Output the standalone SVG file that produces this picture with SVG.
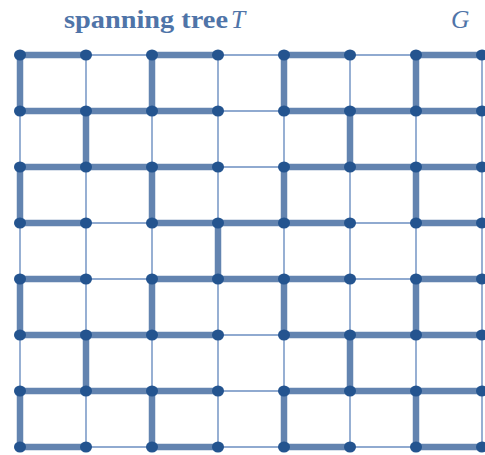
<svg xmlns="http://www.w3.org/2000/svg" width="485" height="455" viewBox="0 0 485 455">
<style>
.bg{fill:#ffffff}
.thin{stroke:#6b8ec0;stroke-width:1.4;fill:none}
.thick{stroke:#6384b0;stroke-width:6.5;stroke-linecap:butt;fill:none}
.node{fill:#24548f}
.title{font-family:"Liberation Serif","DejaVu Serif",serif;font-size:24.5px;font-weight:bold;fill:#4f74a8}
.math{font-family:"Liberation Serif","DejaVu Serif",serif;font-size:25.5px;font-style:italic;fill:#4f74a8}
</style>
<rect class="bg" x="0" y="0" width="485" height="455"/>
<text class="title" x="64" y="28" textLength="164" lengthAdjust="spacingAndGlyphs">spanning tree</text>
<text class="math" x="231" y="28">T</text>
<text class="math" x="451" y="28">G</text>
<g id="edges">
<line class="thin" x1="86" y1="55" x2="152" y2="55"/>
<line class="thin" x1="218" y1="55" x2="284" y2="55"/>
<line class="thin" x1="350" y1="55" x2="416" y2="55"/>
<line class="thin" x1="218" y1="111" x2="284" y2="111"/>
<line class="thin" x1="218" y1="167" x2="284" y2="167"/>
<line class="thin" x1="86" y1="223" x2="152" y2="223"/>
<line class="thin" x1="350" y1="223" x2="416" y2="223"/>
<line class="thin" x1="86" y1="279" x2="152" y2="279"/>
<line class="thin" x1="350" y1="279" x2="416" y2="279"/>
<line class="thin" x1="218" y1="335" x2="284" y2="335"/>
<line class="thin" x1="218" y1="391" x2="284" y2="391"/>
<line class="thin" x1="86" y1="447" x2="152" y2="447"/>
<line class="thin" x1="218" y1="447" x2="284" y2="447"/>
<line class="thin" x1="350" y1="447" x2="416" y2="447"/>
<line class="thin" x1="20" y1="111" x2="20" y2="167"/>
<line class="thin" x1="20" y1="223" x2="20" y2="279"/>
<line class="thin" x1="20" y1="335" x2="20" y2="391"/>
<line class="thin" x1="86" y1="55" x2="86" y2="111"/>
<line class="thin" x1="86" y1="167" x2="86" y2="223"/>
<line class="thin" x1="86" y1="223" x2="86" y2="279"/>
<line class="thin" x1="86" y1="279" x2="86" y2="335"/>
<line class="thin" x1="86" y1="391" x2="86" y2="447"/>
<line class="thin" x1="152" y1="111" x2="152" y2="167"/>
<line class="thin" x1="152" y1="223" x2="152" y2="279"/>
<line class="thin" x1="152" y1="335" x2="152" y2="391"/>
<line class="thin" x1="218" y1="55" x2="218" y2="111"/>
<line class="thin" x1="218" y1="111" x2="218" y2="167"/>
<line class="thin" x1="218" y1="167" x2="218" y2="223"/>
<line class="thin" x1="218" y1="279" x2="218" y2="335"/>
<line class="thin" x1="218" y1="335" x2="218" y2="391"/>
<line class="thin" x1="218" y1="391" x2="218" y2="447"/>
<line class="thin" x1="284" y1="111" x2="284" y2="167"/>
<line class="thin" x1="284" y1="223" x2="284" y2="279"/>
<line class="thin" x1="284" y1="335" x2="284" y2="391"/>
<line class="thin" x1="350" y1="55" x2="350" y2="111"/>
<line class="thin" x1="350" y1="167" x2="350" y2="223"/>
<line class="thin" x1="350" y1="223" x2="350" y2="279"/>
<line class="thin" x1="350" y1="279" x2="350" y2="335"/>
<line class="thin" x1="350" y1="391" x2="350" y2="447"/>
<line class="thin" x1="416" y1="111" x2="416" y2="167"/>
<line class="thin" x1="416" y1="223" x2="416" y2="279"/>
<line class="thin" x1="416" y1="335" x2="416" y2="391"/>
<line class="thin" x1="482" y1="55" x2="482" y2="111"/>
<line class="thin" x1="482" y1="111" x2="482" y2="167"/>
<line class="thin" x1="482" y1="167" x2="482" y2="223"/>
<line class="thin" x1="482" y1="223" x2="482" y2="279"/>
<line class="thin" x1="482" y1="279" x2="482" y2="335"/>
<line class="thin" x1="482" y1="335" x2="482" y2="391"/>
<line class="thin" x1="482" y1="391" x2="482" y2="447"/>
<line class="thick" x1="20" y1="55" x2="86" y2="55"/>
<line class="thick" x1="152" y1="55" x2="218" y2="55"/>
<line class="thick" x1="284" y1="55" x2="350" y2="55"/>
<line class="thick" x1="416" y1="55" x2="482" y2="55"/>
<line class="thick" x1="20" y1="111" x2="86" y2="111"/>
<line class="thick" x1="86" y1="111" x2="152" y2="111"/>
<line class="thick" x1="152" y1="111" x2="218" y2="111"/>
<line class="thick" x1="284" y1="111" x2="350" y2="111"/>
<line class="thick" x1="350" y1="111" x2="416" y2="111"/>
<line class="thick" x1="416" y1="111" x2="482" y2="111"/>
<line class="thick" x1="20" y1="167" x2="86" y2="167"/>
<line class="thick" x1="86" y1="167" x2="152" y2="167"/>
<line class="thick" x1="152" y1="167" x2="218" y2="167"/>
<line class="thick" x1="284" y1="167" x2="350" y2="167"/>
<line class="thick" x1="350" y1="167" x2="416" y2="167"/>
<line class="thick" x1="416" y1="167" x2="482" y2="167"/>
<line class="thick" x1="20" y1="223" x2="86" y2="223"/>
<line class="thick" x1="152" y1="223" x2="218" y2="223"/>
<line class="thick" x1="218" y1="223" x2="284" y2="223"/>
<line class="thick" x1="284" y1="223" x2="350" y2="223"/>
<line class="thick" x1="416" y1="223" x2="482" y2="223"/>
<line class="thick" x1="20" y1="279" x2="86" y2="279"/>
<line class="thick" x1="152" y1="279" x2="218" y2="279"/>
<line class="thick" x1="218" y1="279" x2="284" y2="279"/>
<line class="thick" x1="284" y1="279" x2="350" y2="279"/>
<line class="thick" x1="416" y1="279" x2="482" y2="279"/>
<line class="thick" x1="20" y1="335" x2="86" y2="335"/>
<line class="thick" x1="86" y1="335" x2="152" y2="335"/>
<line class="thick" x1="152" y1="335" x2="218" y2="335"/>
<line class="thick" x1="284" y1="335" x2="350" y2="335"/>
<line class="thick" x1="350" y1="335" x2="416" y2="335"/>
<line class="thick" x1="416" y1="335" x2="482" y2="335"/>
<line class="thick" x1="20" y1="391" x2="86" y2="391"/>
<line class="thick" x1="86" y1="391" x2="152" y2="391"/>
<line class="thick" x1="152" y1="391" x2="218" y2="391"/>
<line class="thick" x1="284" y1="391" x2="350" y2="391"/>
<line class="thick" x1="350" y1="391" x2="416" y2="391"/>
<line class="thick" x1="416" y1="391" x2="482" y2="391"/>
<line class="thick" x1="20" y1="447" x2="86" y2="447"/>
<line class="thick" x1="152" y1="447" x2="218" y2="447"/>
<line class="thick" x1="284" y1="447" x2="350" y2="447"/>
<line class="thick" x1="416" y1="447" x2="482" y2="447"/>
<line class="thick" x1="20" y1="55" x2="20" y2="111"/>
<line class="thick" x1="20" y1="167" x2="20" y2="223"/>
<line class="thick" x1="20" y1="279" x2="20" y2="335"/>
<line class="thick" x1="20" y1="391" x2="20" y2="447"/>
<line class="thick" x1="86" y1="111" x2="86" y2="167"/>
<line class="thick" x1="86" y1="335" x2="86" y2="391"/>
<line class="thick" x1="152" y1="55" x2="152" y2="111"/>
<line class="thick" x1="152" y1="167" x2="152" y2="223"/>
<line class="thick" x1="152" y1="279" x2="152" y2="335"/>
<line class="thick" x1="152" y1="391" x2="152" y2="447"/>
<line class="thick" x1="218" y1="223" x2="218" y2="279"/>
<line class="thick" x1="284" y1="55" x2="284" y2="111"/>
<line class="thick" x1="284" y1="167" x2="284" y2="223"/>
<line class="thick" x1="284" y1="279" x2="284" y2="335"/>
<line class="thick" x1="284" y1="391" x2="284" y2="447"/>
<line class="thick" x1="350" y1="111" x2="350" y2="167"/>
<line class="thick" x1="350" y1="335" x2="350" y2="391"/>
<line class="thick" x1="416" y1="55" x2="416" y2="111"/>
<line class="thick" x1="416" y1="167" x2="416" y2="223"/>
<line class="thick" x1="416" y1="279" x2="416" y2="335"/>
<line class="thick" x1="416" y1="391" x2="416" y2="447"/>
</g>
<g id="nodes">
<g id="n0-0"><ellipse class="node" cx="20" cy="55" rx="6" ry="5.5"/></g>
<g id="n1-0"><ellipse class="node" cx="86" cy="55" rx="6" ry="5.5"/></g>
<g id="n2-0"><ellipse class="node" cx="152" cy="55" rx="6" ry="5.5"/></g>
<g id="n3-0"><ellipse class="node" cx="218" cy="55" rx="6" ry="5.5"/></g>
<g id="n4-0"><ellipse class="node" cx="284" cy="55" rx="6" ry="5.5"/></g>
<g id="n5-0"><ellipse class="node" cx="350" cy="55" rx="6" ry="5.5"/></g>
<g id="n6-0"><ellipse class="node" cx="416" cy="55" rx="6" ry="5.5"/></g>
<g id="n7-0"><ellipse class="node" cx="482" cy="55" rx="6" ry="5.5"/></g>
<g id="n0-1"><ellipse class="node" cx="20" cy="111" rx="6" ry="5.5"/></g>
<g id="n1-1"><ellipse class="node" cx="86" cy="111" rx="6" ry="5.5"/></g>
<g id="n2-1"><ellipse class="node" cx="152" cy="111" rx="6" ry="5.5"/></g>
<g id="n3-1"><ellipse class="node" cx="218" cy="111" rx="6" ry="5.5"/></g>
<g id="n4-1"><ellipse class="node" cx="284" cy="111" rx="6" ry="5.5"/></g>
<g id="n5-1"><ellipse class="node" cx="350" cy="111" rx="6" ry="5.5"/></g>
<g id="n6-1"><ellipse class="node" cx="416" cy="111" rx="6" ry="5.5"/></g>
<g id="n7-1"><ellipse class="node" cx="482" cy="111" rx="6" ry="5.5"/></g>
<g id="n0-2"><ellipse class="node" cx="20" cy="167" rx="6" ry="5.5"/></g>
<g id="n1-2"><ellipse class="node" cx="86" cy="167" rx="6" ry="5.5"/></g>
<g id="n2-2"><ellipse class="node" cx="152" cy="167" rx="6" ry="5.5"/></g>
<g id="n3-2"><ellipse class="node" cx="218" cy="167" rx="6" ry="5.5"/></g>
<g id="n4-2"><ellipse class="node" cx="284" cy="167" rx="6" ry="5.5"/></g>
<g id="n5-2"><ellipse class="node" cx="350" cy="167" rx="6" ry="5.5"/></g>
<g id="n6-2"><ellipse class="node" cx="416" cy="167" rx="6" ry="5.5"/></g>
<g id="n7-2"><ellipse class="node" cx="482" cy="167" rx="6" ry="5.5"/></g>
<g id="n0-3"><ellipse class="node" cx="20" cy="223" rx="6" ry="5.5"/></g>
<g id="n1-3"><ellipse class="node" cx="86" cy="223" rx="6" ry="5.5"/></g>
<g id="n2-3"><ellipse class="node" cx="152" cy="223" rx="6" ry="5.5"/></g>
<g id="n3-3"><ellipse class="node" cx="218" cy="223" rx="6" ry="5.5"/></g>
<g id="n4-3"><ellipse class="node" cx="284" cy="223" rx="6" ry="5.5"/></g>
<g id="n5-3"><ellipse class="node" cx="350" cy="223" rx="6" ry="5.5"/></g>
<g id="n6-3"><ellipse class="node" cx="416" cy="223" rx="6" ry="5.5"/></g>
<g id="n7-3"><ellipse class="node" cx="482" cy="223" rx="6" ry="5.5"/></g>
<g id="n0-4"><ellipse class="node" cx="20" cy="279" rx="6" ry="5.5"/></g>
<g id="n1-4"><ellipse class="node" cx="86" cy="279" rx="6" ry="5.5"/></g>
<g id="n2-4"><ellipse class="node" cx="152" cy="279" rx="6" ry="5.5"/></g>
<g id="n3-4"><ellipse class="node" cx="218" cy="279" rx="6" ry="5.5"/></g>
<g id="n4-4"><ellipse class="node" cx="284" cy="279" rx="6" ry="5.5"/></g>
<g id="n5-4"><ellipse class="node" cx="350" cy="279" rx="6" ry="5.5"/></g>
<g id="n6-4"><ellipse class="node" cx="416" cy="279" rx="6" ry="5.5"/></g>
<g id="n7-4"><ellipse class="node" cx="482" cy="279" rx="6" ry="5.5"/></g>
<g id="n0-5"><ellipse class="node" cx="20" cy="335" rx="6" ry="5.5"/></g>
<g id="n1-5"><ellipse class="node" cx="86" cy="335" rx="6" ry="5.5"/></g>
<g id="n2-5"><ellipse class="node" cx="152" cy="335" rx="6" ry="5.5"/></g>
<g id="n3-5"><ellipse class="node" cx="218" cy="335" rx="6" ry="5.5"/></g>
<g id="n4-5"><ellipse class="node" cx="284" cy="335" rx="6" ry="5.5"/></g>
<g id="n5-5"><ellipse class="node" cx="350" cy="335" rx="6" ry="5.5"/></g>
<g id="n6-5"><ellipse class="node" cx="416" cy="335" rx="6" ry="5.5"/></g>
<g id="n7-5"><ellipse class="node" cx="482" cy="335" rx="6" ry="5.5"/></g>
<g id="n0-6"><ellipse class="node" cx="20" cy="391" rx="6" ry="5.5"/></g>
<g id="n1-6"><ellipse class="node" cx="86" cy="391" rx="6" ry="5.5"/></g>
<g id="n2-6"><ellipse class="node" cx="152" cy="391" rx="6" ry="5.5"/></g>
<g id="n3-6"><ellipse class="node" cx="218" cy="391" rx="6" ry="5.5"/></g>
<g id="n4-6"><ellipse class="node" cx="284" cy="391" rx="6" ry="5.5"/></g>
<g id="n5-6"><ellipse class="node" cx="350" cy="391" rx="6" ry="5.5"/></g>
<g id="n6-6"><ellipse class="node" cx="416" cy="391" rx="6" ry="5.5"/></g>
<g id="n7-6"><ellipse class="node" cx="482" cy="391" rx="6" ry="5.5"/></g>
<g id="n0-7"><ellipse class="node" cx="20" cy="447" rx="6" ry="5.5"/></g>
<g id="n1-7"><ellipse class="node" cx="86" cy="447" rx="6" ry="5.5"/></g>
<g id="n2-7"><ellipse class="node" cx="152" cy="447" rx="6" ry="5.5"/></g>
<g id="n3-7"><ellipse class="node" cx="218" cy="447" rx="6" ry="5.5"/></g>
<g id="n4-7"><ellipse class="node" cx="284" cy="447" rx="6" ry="5.5"/></g>
<g id="n5-7"><ellipse class="node" cx="350" cy="447" rx="6" ry="5.5"/></g>
<g id="n6-7"><ellipse class="node" cx="416" cy="447" rx="6" ry="5.5"/></g>
<g id="n7-7"><ellipse class="node" cx="482" cy="447" rx="6" ry="5.5"/></g>
</g>
</svg>
